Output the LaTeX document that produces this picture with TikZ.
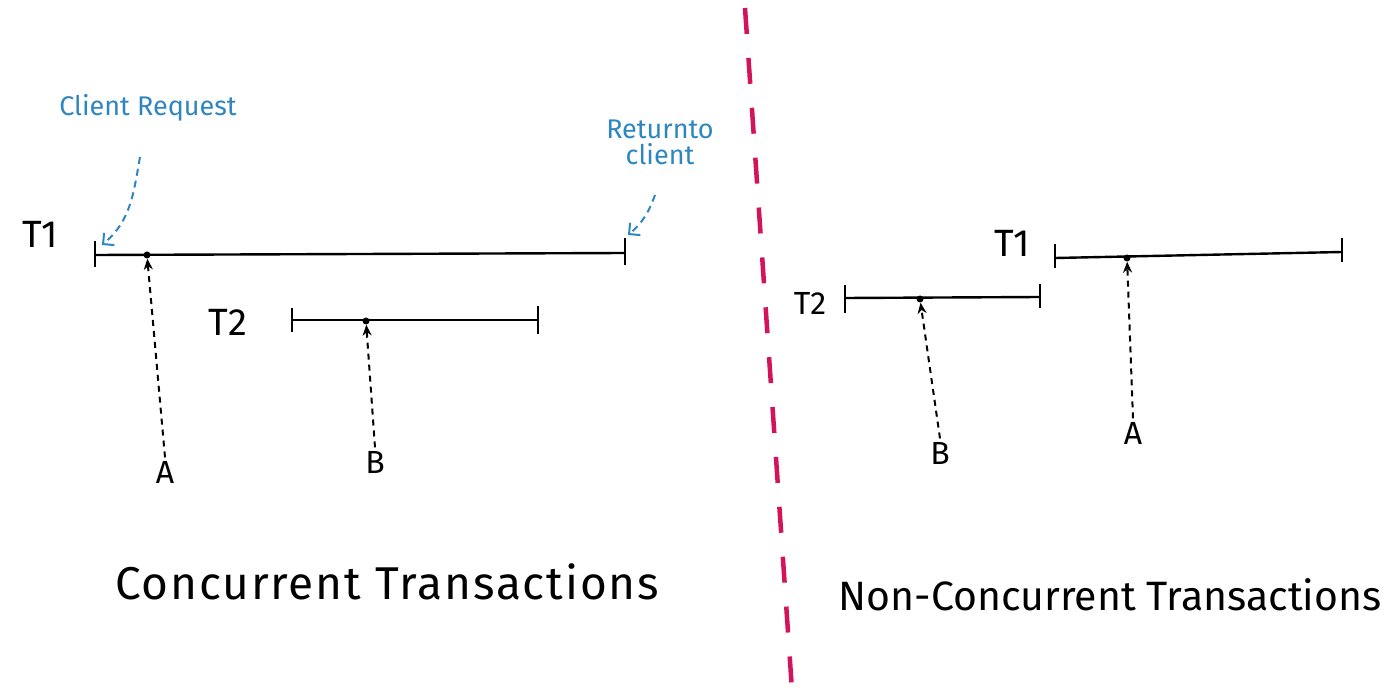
\documentclass[tikz,border=0pt]{standalone}
\usepackage{fontspec}
\setmainfont{Fira Sans}
\usetikzlibrary{arrows.meta}
\definecolor{sketchblue}{HTML}{2E86C1}
\definecolor{divider}{HTML}{D4145A}
\begin{document}
\begin{tikzpicture}[x=1pt,y=-1pt,
  tl/.style={line width=2.4pt,line cap=round},
  tick/.style={line width=2.4pt},
  dotn/.style={circle,fill=black,inner sep=0pt,minimum size=7pt},
  lab/.style={font=\fontsize{38}{40}\selectfont},
  small/.style={font=\fontsize{32}{34}\selectfont},
  note/.style={font=\fontsize{27}{26}\selectfont,text=sketchblue,align=center},
  ptr/.style={line width=2pt,dash pattern=on 6pt off 5pt,-{Stealth[length=11pt,width=9pt]}},
  bptr/.style={line width=2pt,dash pattern=on 7pt off 5pt,draw=sketchblue,-{Straight Barb[length=8pt]}},
  captext/.style={font=\fontsize{46}{50}\selectfont\addfontfeatures{LetterSpace=4}},
  captextb/.style={font=\fontsize{41}{46}\selectfont}]
\useasboundingbox (0,0) rectangle (1400,700);
% left T1
\coordinate (t1s) at (95,255); \coordinate (t1e) at (625,253);
\draw[tl] (t1s) -- (t1e);
\draw[tick] (95,241) -- (95,267); \draw[tick] (625,238) -- (625,265);
\node[dotn] (d1) at (147,255) {};
\node[lab] (T1) at (40,234) {T1};
% left T2
\draw[tl] (292,320) -- (538,320);
\draw[tick] (292,308) -- (292,332); \draw[tick] (538,306) -- (538,334);
\node[dotn] (d2) at (366,321) {};
\node[lab] (T2) at (228,322) {T2};
\node[small] (A) at (165,472) {A};
\node[small] (B) at (375,462) {B};
\draw[ptr] (A.north) -- (d1);
\draw[ptr] (B.north) -- (d2);
% notes
\node[note] (cr) at (148,108) {Client Request};
\node[note] (rc) at (660,142) {Returnto\\client};
\draw[bptr] (140,157) to[out=260,in=40] (102,245);
\draw[bptr] (655,195) to[out=250,in=40] (628,235);
% divider
\draw[divider,line width=4.5pt,dash pattern=on 26pt off 24pt] (745,8) -- (792,690);
% right T1
\draw[tl] (1055,258) -- (1342,252);
\draw[tick] (1055,244) -- (1055,268); \draw[tick] (1342,238) -- (1342,262);
\node[dotn] (d3) at (1127,258) {};
\node[lab] (T1b) at (1012,243) {T1};
% right T2
\draw[tl] (845,298) -- (1040,297);
\draw[tick] (845,285) -- (845,313); \draw[tick] (1040,284) -- (1040,308);
\node[dotn] (d4) at (920,299) {};
\node[small] (T2b) at (810,303) {T2};
\node[small] (A2) at (1133,433) {A};
\node[small] (B2) at (940,453) {B};
\draw[ptr] (A2.north) -- (d3);
\draw[ptr] (B2.north) -- (d4);
% captions
\node[captext] (c1) at (387,582) {Concurrent Transactions};
\node[captextb] (c2) at (1110,595) {Non-Concurrent Transactions};
\end{tikzpicture}
\end{document}
